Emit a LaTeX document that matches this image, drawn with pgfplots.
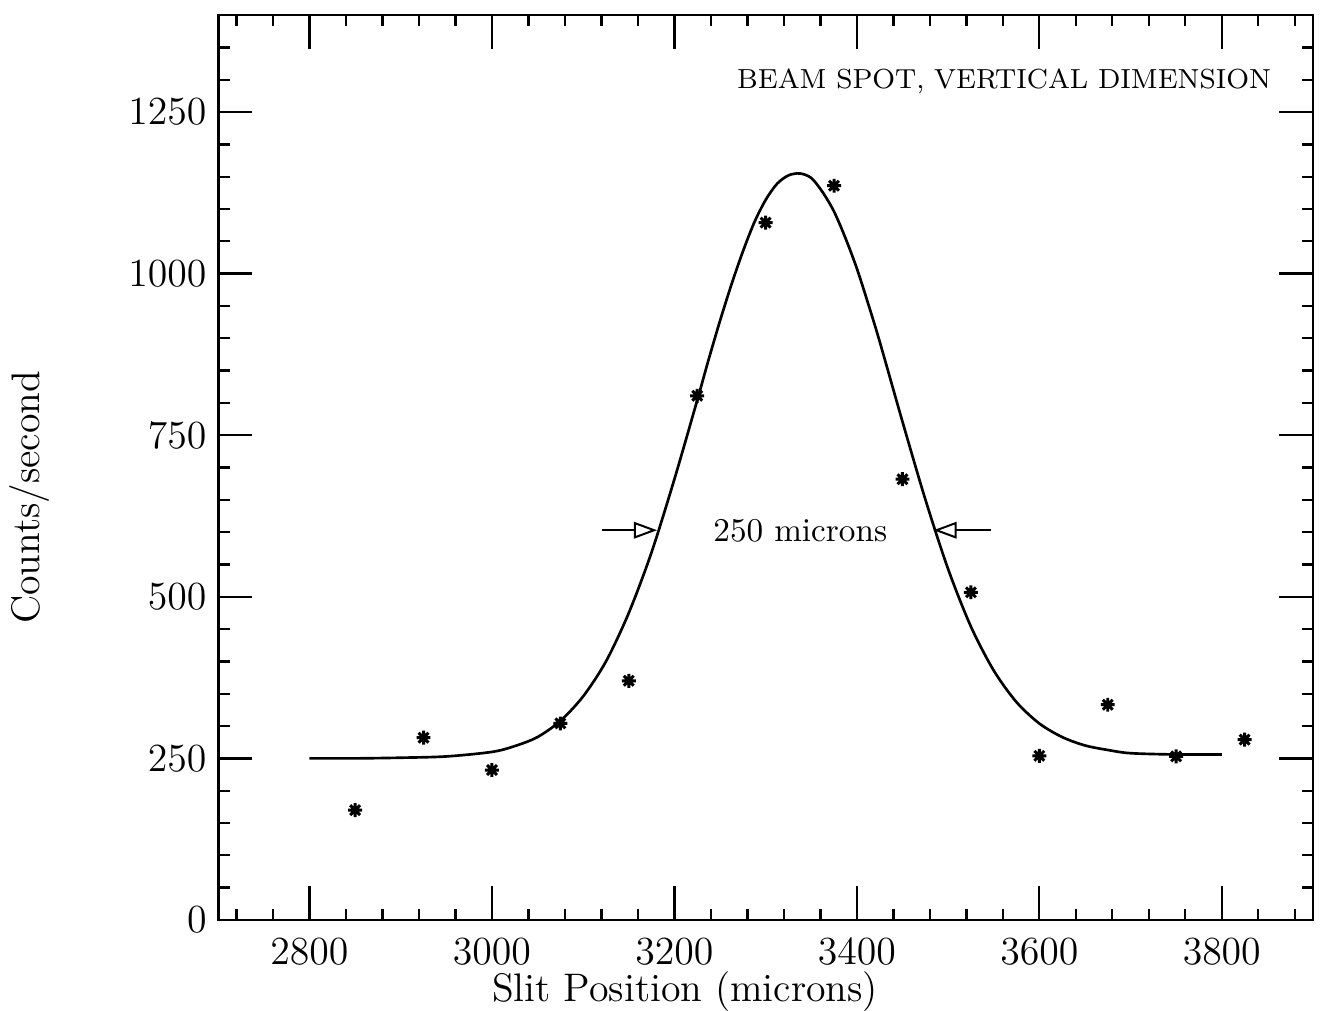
\documentclass[border=0pt]{standalone}
\usepackage{pgfplots}
\pgfplotsset{compat=1.18}
\usetikzlibrary{arrows.meta}
\pgfdeclareplotmark{star8}{%
  \pgfpathmoveto{\pgfqpoint{0pt}{\pgfplotmarksize}}%
  \pgfpathlineto{\pgfqpoint{0pt}{-\pgfplotmarksize}}%
  \pgfpathmoveto{\pgfqpoint{\pgfplotmarksize}{0pt}}%
  \pgfpathlineto{\pgfqpoint{-\pgfplotmarksize}{0pt}}%
  \pgfpathmoveto{\pgfqpoint{0.707\pgfplotmarksize}{0.707\pgfplotmarksize}}%
  \pgfpathlineto{\pgfqpoint{-0.707\pgfplotmarksize}{-0.707\pgfplotmarksize}}%
  \pgfpathmoveto{\pgfqpoint{0.707\pgfplotmarksize}{-0.707\pgfplotmarksize}}%
  \pgfpathlineto{\pgfqpoint{-0.707\pgfplotmarksize}{0.707\pgfplotmarksize}}%
  \pgfusepathqstroke}
\begin{document}
\begin{tikzpicture}
\begin{axis}[
  scale only axis,
  width=11.587cm, height=9.577cm,
  xmin=2700, xmax=3900, ymin=0, ymax=1400,
  xtick={2800,3000,...,3800},
  minor xtick={2720,2760,...,3880},
  ytick={0,250,...,1250},
  minor ytick={50,100,...,1350},
  tick align=inside,
  major tick length=0.36cm,
  minor tick length=0.12cm,
  tick style={line width=0.7pt, black},
  axis line style={line width=0.8pt},
  /pgf/number format/1000 sep={},
  xticklabel style={font=\large, yshift=-2pt},
  yticklabel style={font=\large},
  xlabel={\large Slit Position (microns)},
  ylabel={\large Counts/second},
  ylabel style={at={(axis description cs:-0.172,0.467)}, anchor=center},
  xlabel style={at={(axis description cs:0.4265,-0.079)}, anchor=center},
  clip=false,
]
\addplot[line width=0.8pt, smooth, tension=0.5] coordinates {
(2800,250) (2850,250) (2900,251) (2950,253) (3000,260) (3025,269) (3050,283)
(3075,308) (3100,346) (3125,400) (3150,475) (3175,569) (3200,682) (3225,804)
(3237.5,867) (3250,927) (3262.5,983) (3275,1034) (3287.5,1079) (3300,1114)
(3312.5,1139) (3325,1152) (3337.5,1155) (3350,1148) (3362.5,1126) (3375,1096)
(3387.5,1055) (3400,1008) (3412.5,953) (3425,895) (3450,771) (3475,651)
(3500,543) (3525,454) (3550,386) (3575,337) (3600,304) (3625,283) (3650,270)
(3675,263) (3700,258) (3750,256) (3800,256)
};
\addplot[only marks, mark=star8, mark size=2.1pt, mark options={line width=0.9pt}] coordinates {
(2850,170) (2925,282) (3000,232) (3075,304) (3150,370) (3225,811) (3300,1079)
(3375,1136) (3450,682) (3525,507) (3600,254) (3675,333) (3750,253) (3825,279)
};
\draw[line width=0.6pt, -{Triangle[open, length=7pt, width=5pt]}] (axis cs:3121,603) -- (axis cs:3181,603);
\draw[line width=0.6pt, -{Triangle[open, length=7pt, width=5pt]}] (axis cs:3547,603) -- (axis cs:3484,603);
\node[font=\normalsize] at (axis cs:3338,602) {250 microns};
\node[font=\fontsize{8.3}{10}\selectfont, anchor=east] at (axis cs:3867,1298) {BEAM SPOT, VERTICAL DIMENSION};
\end{axis}
\pgfresetboundingbox
\path ([shift={(-2.31cm,-0.96cm)}]current axis.south west) rectangle ([shift={(0.106cm,0.16cm)}]current axis.north east);
\end{tikzpicture}
\end{document}
